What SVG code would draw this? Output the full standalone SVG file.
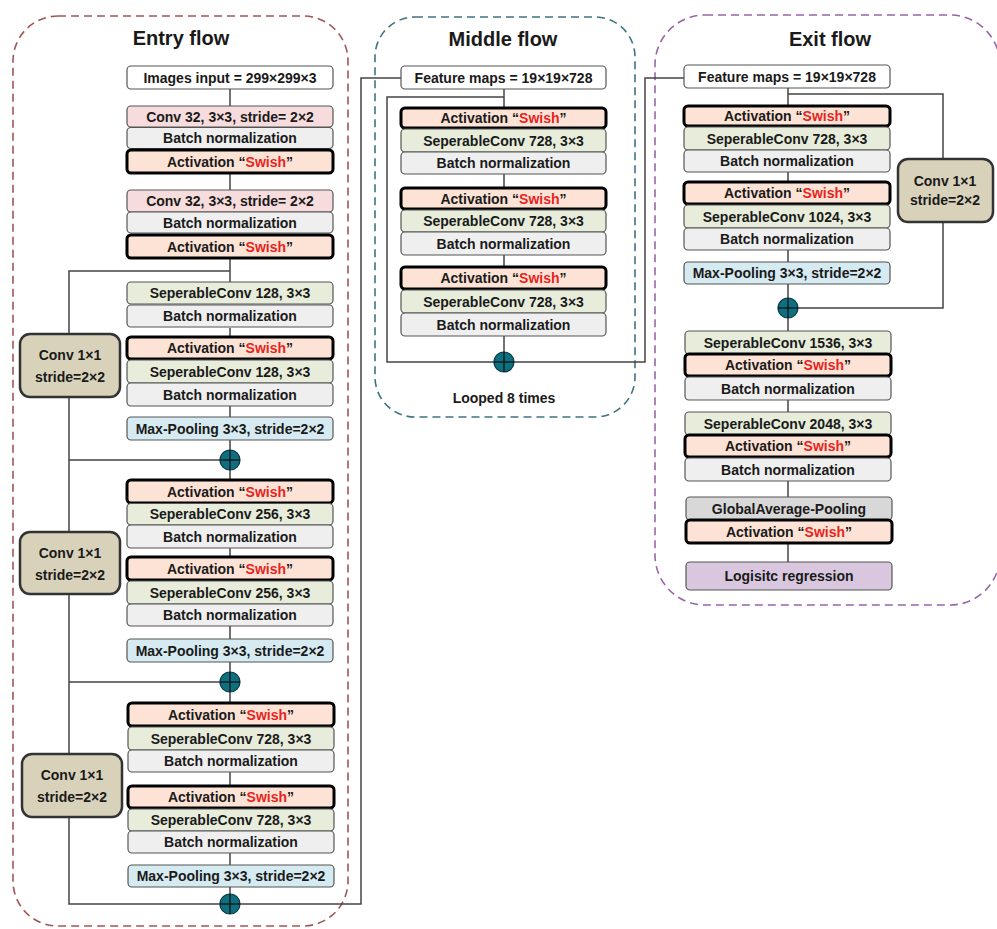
<svg xmlns="http://www.w3.org/2000/svg" width="997" height="929" viewBox="0 0 997 929">
<style>
.frame{fill:none;stroke-width:1.6;stroke-dasharray:8 5}
.b{stroke:#555;stroke-width:1.2}
.inp{fill:#fff}
.conv{fill:#f6dcdc}
.bn{fill:#efefef}
.act{fill:#fde3d5;stroke:#000;stroke-width:3}
.sep{fill:#e7edda}
.mp{fill:#d6eaf1}
.c11{fill:#d9d2bb;stroke:#333;stroke-width:2.5}
.gap{fill:#d8d8d8}
.log{fill:#d9c7df}
.t{font-family:"Liberation Sans",Arial,sans-serif;font-weight:bold;font-size:14px;fill:#1a1a1a;text-anchor:middle}
.title{font-family:"Liberation Sans",Arial,sans-serif;font-weight:bold;font-size:20px;fill:#1a1a1a;text-anchor:middle}
.r{fill:#e8231e}
.ln{fill:none;stroke:#444;stroke-width:1.5}
.pc{fill:#0d7080;stroke:#0a3a44;stroke-width:1.2}
.px{stroke:#111;stroke-width:1.3}
</style>
<defs>
<g id="plus"><circle class="pc" cx="0" cy="0" r="10"/><line class="px" x1="-10" y1="0" x2="10" y2="0"/><line class="px" x1="0" y1="-10" x2="0" y2="10"/></g>
</defs>

<!-- frames -->
<g id="frames">
<rect class="frame" x="13" y="16" width="335" height="910" rx="45" stroke="#a05656"/>
<rect class="frame" x="375" y="17" width="260" height="400" rx="40" stroke="#3e7482"/>
<rect class="frame" x="655" y="15" width="345" height="590" rx="50" stroke="#9866a8"/>
<text class="title" x="181" y="45">Entry flow</text>
<text class="title" x="503" y="46">Middle flow</text>
<text class="title" x="830" y="46">Exit flow</text>
</g>

<!-- connectors -->
<g id="connectors">
<!-- entry -->
<path class="ln" d="M230 89V106 M230 173V190 M230 258V282 M230 328V337 M230 406V417 M230 440V450 M230 470V480 M230 548V557 M230 626V639 M230 662V672 M230 692V703 M230 772V786 M230 853V865 M230 887V894"/>
<path class="ln" d="M230 271H69V904H361V78H401"/>
<path class="ln" d="M69 460H220 M69 682H220"/>
<!-- middle -->
<path class="ln" d="M504 89V108 M504 174V188 M504 255V267 M504 336V352"/>
<path class="ln" d="M504 97H387V362H645V78H684"/>
<!-- exit -->
<path class="ln" d="M788 88V106 M788 172V182 M788 250V262 M788 284V298 M788 318V331 M788 400V412 M788 481V497 M788 543V562"/>
<path class="ln" d="M788 94H943V159 M943 222V308H798"/>
</g>

<!-- ENTRY FLOW -->
<g id="e_input"><rect class="b inp" x="127" y="66" width="206" height="23" rx="4"/><text class="t" x="230" y="82.5">Images input = 299×299×3</text></g>
<g id="e_conv1"><rect class="b conv" x="127" y="106" width="206" height="21" rx="4"/><text class="t" x="230" y="121.5">Conv 32, 3×3, stride= 2×2</text></g>
<g id="e_bn1"><rect class="b bn" x="127" y="127.5" width="206" height="21" rx="4"/><text class="t" x="230" y="143">Batch normalization</text></g>
<g id="e_act1"><rect class="act" x="127" y="150" width="206" height="23" rx="4"/><text class="t" x="230" y="166.5">Activation “<tspan class="r">Swish</tspan>”</text></g>
<g id="e_conv2"><rect class="b conv" x="127" y="190" width="206" height="22" rx="4"/><text class="t" x="230" y="206">Conv 32, 3×3, stride= 2×2</text></g>
<g id="e_bn2"><rect class="b bn" x="127" y="212" width="206" height="21" rx="4"/><text class="t" x="230" y="227.5">Batch normalization</text></g>
<g id="e_act2"><rect class="act" x="127" y="235" width="206" height="23" rx="4"/><text class="t" x="230" y="251.5">Activation “<tspan class="r">Swish</tspan>”</text></g>

<g id="e_sep1"><rect class="b sep" x="127" y="282" width="206" height="22" rx="4"/><text class="t" x="230" y="298">SeperableConv 128, 3×3</text></g>
<g id="e_bn3"><rect class="b bn" x="127" y="305" width="206" height="22" rx="4"/><text class="t" x="230" y="321">Batch normalization</text></g>
<g id="e_act3"><rect class="act" x="127" y="337" width="206" height="22" rx="4"/><text class="t" x="230" y="353">Activation “<tspan class="r">Swish</tspan>”</text></g>
<g id="e_sep2"><rect class="b sep" x="127" y="360" width="206" height="23" rx="4"/><text class="t" x="230" y="376.5">SeperableConv 128, 3×3</text></g>
<g id="e_bn4"><rect class="b bn" x="127" y="383" width="206" height="23" rx="4"/><text class="t" x="230" y="399.5">Batch normalization</text></g>
<g id="e_mp1"><rect class="b mp" x="127" y="417" width="206" height="23" rx="4"/><text class="t" x="230" y="433.5">Max-Pooling 3×3, stride=2×2</text></g>
<g id="e_add1"><use href="#plus" x="230" y="460"/></g>
<g id="e_skip1"><rect class="c11" x="20" y="334" width="100" height="63" rx="10"/><text class="t" x="70" y="360">Conv 1×1</text><text class="t" x="70" y="382">stride=2×2</text></g>

<g id="e_act4"><rect class="act" x="127" y="480" width="206" height="23" rx="4"/><text class="t" x="230" y="496.5">Activation “<tspan class="r">Swish</tspan>”</text></g>
<g id="e_sep3"><rect class="b sep" x="127" y="503.5" width="206" height="21.5" rx="4"/><text class="t" x="230" y="519">SeperableConv 256, 3×3</text></g>
<g id="e_bn5"><rect class="b bn" x="127" y="525" width="206" height="23" rx="4"/><text class="t" x="230" y="541.5">Batch normalization</text></g>
<g id="e_act5"><rect class="act" x="127" y="557" width="206" height="23" rx="4"/><text class="t" x="230" y="573.5">Activation “<tspan class="r">Swish</tspan>”</text></g>
<g id="e_sep4"><rect class="b sep" x="127" y="581" width="206" height="23" rx="4"/><text class="t" x="230" y="597.5">SeperableConv 256, 3×3</text></g>
<g id="e_bn6"><rect class="b bn" x="127" y="604" width="206" height="22" rx="4"/><text class="t" x="230" y="620">Batch normalization</text></g>
<g id="e_mp2"><rect class="b mp" x="127" y="639" width="206" height="23" rx="4"/><text class="t" x="230" y="655.5">Max-Pooling 3×3, stride=2×2</text></g>
<g id="e_add2"><use href="#plus" x="230" y="682"/></g>
<g id="e_skip2"><rect class="c11" x="20" y="532" width="100" height="62" rx="10"/><text class="t" x="70" y="557.5">Conv 1×1</text><text class="t" x="70" y="579.5">stride=2×2</text></g>

<g id="e_act6"><rect class="act" x="128" y="703" width="206" height="23" rx="4"/><text class="t" x="231" y="719.5">Activation “<tspan class="r">Swish</tspan>”</text></g>
<g id="e_sep5"><rect class="b sep" x="128" y="727" width="206" height="23" rx="4"/><text class="t" x="231" y="743.5">SeperableConv 728, 3×3</text></g>
<g id="e_bn7"><rect class="b bn" x="128" y="750" width="206" height="22" rx="4"/><text class="t" x="231" y="766">Batch normalization</text></g>
<g id="e_act7"><rect class="act" x="128" y="786" width="206" height="22" rx="4"/><text class="t" x="231" y="802">Activation “<tspan class="r">Swish</tspan>”</text></g>
<g id="e_sep6"><rect class="b sep" x="128" y="809" width="206" height="22" rx="4"/><text class="t" x="231" y="825">SeperableConv 728, 3×3</text></g>
<g id="e_bn8"><rect class="b bn" x="128" y="831" width="206" height="22" rx="4"/><text class="t" x="231" y="847">Batch normalization</text></g>
<g id="e_mp3"><rect class="b mp" x="128" y="865" width="206" height="22" rx="4"/><text class="t" x="231" y="881">Max-Pooling 3×3, stride=2×2</text></g>
<g id="e_add3"><use href="#plus" x="230" y="904"/></g>
<g id="e_skip3"><rect class="c11" x="22" y="754" width="100" height="63" rx="10"/><text class="t" x="72" y="780">Conv 1×1</text><text class="t" x="72" y="802">stride=2×2</text></g>

<!-- MIDDLE FLOW -->
<g id="m_input"><rect class="b inp" x="401" y="66" width="205" height="23" rx="4"/><text class="t" x="503.5" y="82.5">Feature maps = 19×19×728</text></g>
<g id="m_act1"><rect class="act" x="401" y="108" width="205" height="20" rx="4"/><text class="t" x="503.5" y="123">Activation “<tspan class="r">Swish</tspan>”</text></g>
<g id="m_sep1"><rect class="b sep" x="401" y="129" width="205" height="23" rx="4"/><text class="t" x="503.5" y="145.5">SeperableConv 728, 3×3</text></g>
<g id="m_bn1"><rect class="b bn" x="401" y="152" width="205" height="22" rx="4"/><text class="t" x="503.5" y="168">Batch normalization</text></g>
<g id="m_act2"><rect class="act" x="401" y="188" width="205" height="21" rx="4"/><text class="t" x="503.5" y="203.5">Activation “<tspan class="r">Swish</tspan>”</text></g>
<g id="m_sep2"><rect class="b sep" x="401" y="210" width="205" height="22" rx="4"/><text class="t" x="503.5" y="226">SeperableConv 728, 3×3</text></g>
<g id="m_bn2"><rect class="b bn" x="401" y="232" width="205" height="23" rx="4"/><text class="t" x="503.5" y="248.5">Batch normalization</text></g>
<g id="m_act3"><rect class="act" x="401" y="267" width="205" height="22" rx="4"/><text class="t" x="503.5" y="283">Activation “<tspan class="r">Swish</tspan>”</text></g>
<g id="m_sep3"><rect class="b sep" x="401" y="290" width="205" height="23" rx="4"/><text class="t" x="503.5" y="306.5">SeperableConv 728, 3×3</text></g>
<g id="m_bn3"><rect class="b bn" x="401" y="313" width="205" height="23" rx="4"/><text class="t" x="503.5" y="329.5">Batch normalization</text></g>
<g id="m_add"><use href="#plus" x="504" y="362"/></g>
<g id="m_loop"><text class="t" x="504" y="403">Looped 8 times</text></g>

<!-- EXIT FLOW -->
<g id="x_input"><rect class="b inp" x="684" y="65" width="206" height="23" rx="4"/><text class="t" x="787" y="81.5">Feature maps = 19×19×728</text></g>
<g id="x_act1"><rect class="act" x="684" y="106" width="206" height="20" rx="4"/><text class="t" x="787" y="121">Activation “<tspan class="r">Swish</tspan>”</text></g>
<g id="x_sep1"><rect class="b sep" x="684" y="127" width="206" height="23" rx="4"/><text class="t" x="787" y="143.5">SeperableConv 728, 3×3</text></g>
<g id="x_bn1"><rect class="b bn" x="684" y="150" width="206" height="22" rx="4"/><text class="t" x="787" y="166">Batch normalization</text></g>
<g id="x_act2"><rect class="act" x="684" y="182" width="206" height="22" rx="4"/><text class="t" x="787" y="198">Activation “<tspan class="r">Swish</tspan>”</text></g>
<g id="x_sep2"><rect class="b sep" x="684" y="205" width="206" height="23" rx="4"/><text class="t" x="787" y="221.5">SeperableConv 1024, 3×3</text></g>
<g id="x_bn2"><rect class="b bn" x="684" y="228" width="206" height="22" rx="4"/><text class="t" x="787" y="244">Batch normalization</text></g>
<g id="x_mp"><rect class="b mp" x="684" y="262" width="206" height="22" rx="4"/><text class="t" x="787" y="278">Max-Pooling 3×3, stride=2×2</text></g>
<g id="x_skip"><rect class="c11" x="898" y="159" width="95" height="63" rx="10"/><text class="t" x="945" y="186">Conv 1×1</text><text class="t" x="945" y="205">stride=2×2</text></g>
<g id="x_add"><use href="#plus" x="788" y="308"/></g>
<g id="x_sep3"><rect class="b sep" x="685" y="331" width="206" height="23" rx="4"/><text class="t" x="788" y="347.5">SeperableConv 1536, 3×3</text></g>
<g id="x_act3"><rect class="act" x="685" y="354" width="206" height="22" rx="4"/><text class="t" x="788" y="370">Activation “<tspan class="r">Swish</tspan>”</text></g>
<g id="x_bn3"><rect class="b bn" x="685" y="377" width="206" height="23" rx="4"/><text class="t" x="788" y="393.5">Batch normalization</text></g>
<g id="x_sep4"><rect class="b sep" x="685" y="412" width="206" height="23" rx="4"/><text class="t" x="788" y="428.5">SeperableConv 2048, 3×3</text></g>
<g id="x_act4"><rect class="act" x="685" y="435" width="206" height="22" rx="4"/><text class="t" x="788" y="451">Activation “<tspan class="r">Swish</tspan>”</text></g>
<g id="x_bn4"><rect class="b bn" x="685" y="458" width="206" height="23" rx="4"/><text class="t" x="788" y="474.5">Batch normalization</text></g>
<g id="x_gap"><rect class="b gap" x="686" y="497" width="206" height="23" rx="4"/><text class="t" x="789" y="513.5">GlobalAverage-Pooling</text></g>
<g id="x_act5"><rect class="act" x="686" y="520" width="206" height="23" rx="4"/><text class="t" x="789" y="536.5">Activation “<tspan class="r">Swish</tspan>”</text></g>
<g id="x_log"><rect class="b log" x="686" y="562" width="206" height="28" rx="4"/><text class="t" x="789" y="581">Logisitc regression</text></g>
</svg>
